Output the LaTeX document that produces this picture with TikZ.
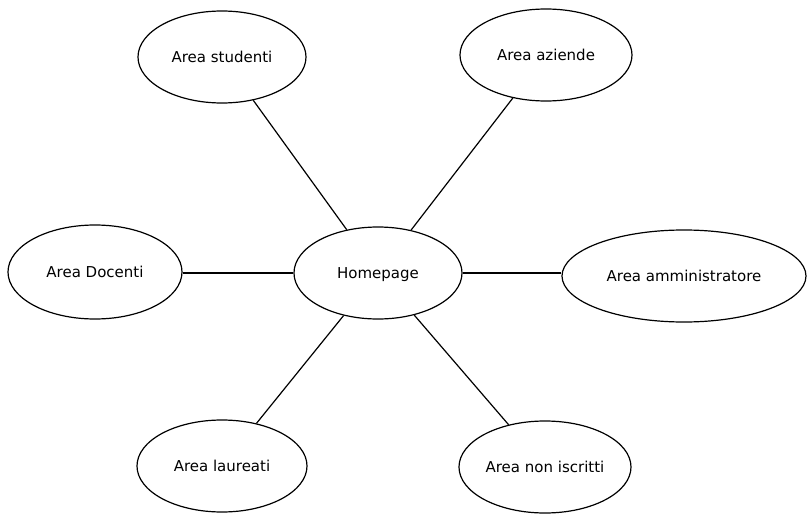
\documentclass[tikz,border=0pt]{standalone}
\usepackage{fontspec}
\setmainfont{DejaVu Sans}
\usetikzlibrary{shapes.geometric}
\begin{document}
\begin{tikzpicture}[x=1pt,y=-1pt,
  area/.style={draw=black, line width=1.2pt, ellipse, inner sep=0pt,
    text height=11pt, text depth=0pt,
    font=\fontsize{15}{18}\selectfont},
  link/.style={draw=black, line width=1.2pt}]
\useasboundingbox (0,0) rectangle (807,514);
\node[area, minimum width=168pt, minimum height=92pt] (home) at (378,273) {Homepage};
\node[area, minimum width=168pt, minimum height=92pt] (stud) at (222,57) {Area studenti};
\node[area, minimum width=172pt, minimum height=92pt] (azi) at (546,55) {Area aziende};
\node[area, minimum width=174pt, minimum height=94pt] (doc) at (95,272) {Area Docenti};
\node[area, minimum width=244pt, minimum height=92pt] (adm) at (684,276) {Area amministratore};
\node[area, minimum width=170pt, minimum height=92pt] (lau) at (222,466) {Area laureati};
\node[area, minimum width=172pt, minimum height=92pt] (non) at (545,467) {Area non iscritti};
\draw[link] (stud) -- (home);
\draw[link] (azi) -- (home);
\draw[link] (doc.east |- home.west) -- (home.west);
\draw[link] (home.east) -- (adm.west |- home.east);
\draw[link] (lau) -- (home);
\draw[link] (non) -- (home);
\end{tikzpicture}
\end{document}
